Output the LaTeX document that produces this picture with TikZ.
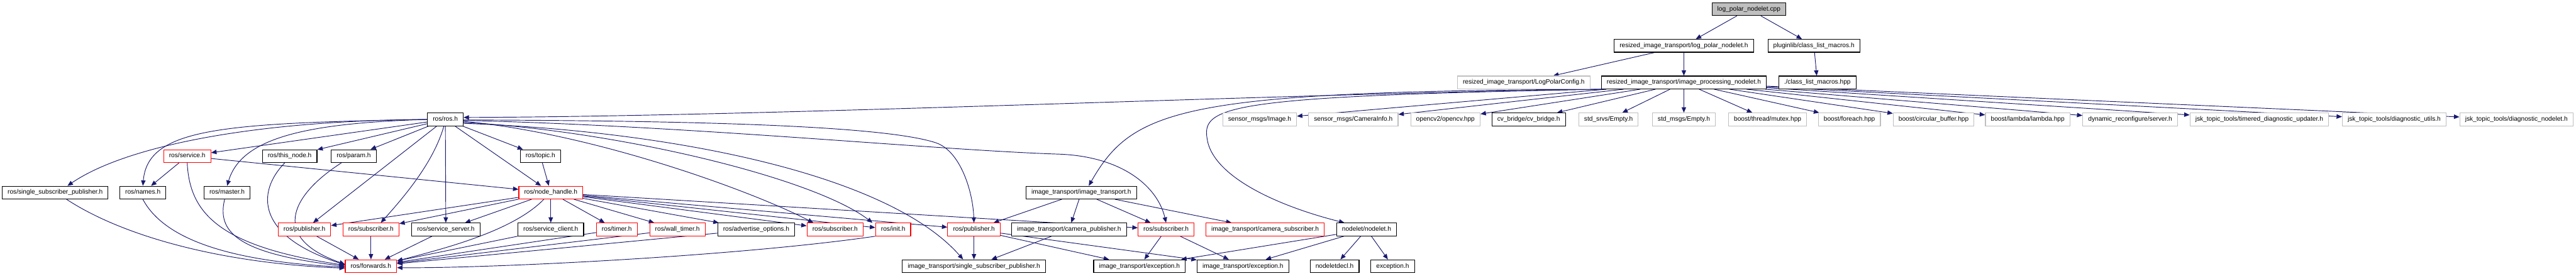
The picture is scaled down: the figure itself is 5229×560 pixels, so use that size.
\documentclass[tikz,border=0pt]{standalone}
\usepackage{fontspec}
\setmainfont{Liberation Sans}
\usepackage{tikz}
\usetikzlibrary{arrows.meta,backgrounds}
\definecolor{edgeblue}{HTML}{191970}

\begin{document}
\begin{tikzpicture}[
    x=1pt, y=-1pt,
    file/.style={rectangle, draw=black, fill=white, line width=1.4pt, minimum height=26pt, inner xsep=11pt, inner ysep=0pt, text height=9.5pt, text depth=2.7pt, font=\fontsize{13}{15}\selectfont},
    trunc/.style={file, draw=red},
    ext/.style={file, draw=black!25},
    root/.style={file, fill=black!25},
    arrow/.style={draw, line width=1.2pt, color=edgeblue, -{Triangle[length=11pt,width=9pt]}}
]
    \useasboundingbox (0,0) rectangle (5229,560);

    \node[root] (cpp) at (3550,18.5) {log\_polar\_nodelet.cpp};
    \node[file] (lpnh) at (3418,93) {resized\_image\_transport/log\_polar\_nodelet.h};
    \node[file] (plugin) at (3682,93) {pluginlib/class\_list\_macros.h};
    \node[ext] (lpcfg) at (3093,167.5) {resized\_image\_transport/LogPolarConfig.h};
    \node[file] (ipn) at (3418,167.5) {resized\_image\_transport/image\_processing\_nodelet.h};
    \node[file] (clmhpp) at (3689,167.5) {./class\_list\_macros.hpp};

    \node[file] (rosh) at (904,242.5) {ros/ros.h};
    \node[ext] (img) at (2557,242.5) {sensor\_msgs/Image.h};
    \node[ext] (caminfo) at (2747,242.5) {sensor\_msgs/CameraInfo.h};
    \node[ext] (opencv) at (2934,242.5) {opencv2/opencv.hpp};
    \node[file] (cvbridge) at (3103,242.5) {cv\_bridge/cv\_bridge.h};
    \node[ext] (srvempty) at (3265,242.5) {std\_srvs/Empty.h};
    \node[ext] (msgempty) at (3418,242.5) {std\_msgs/Empty.h};
    \node[ext] (mutex) at (3588,242.5) {boost/thread/mutex.hpp};
    \node[ext] (bforeach) at (3754,242.5) {boost/foreach.hpp};
    \node[ext] (circbuf) at (3925,242.5) {boost/circular\_buffer.hpp};
    \node[ext] (lambda) at (4116,242.5) {boost/lambda/lambda.hpp};
    \node[ext] (dynrec) at (4324,242.5) {dynamic\_reconfigure/server.h};
    \node[ext] (timered) at (4586,242.5) {jsk\_topic\_tools/timered\_diagnostic\_updater.h};
    \node[ext] (diagutils) at (4860,242.5) {jsk\_topic\_tools/diagnostic\_utils.h};
    \node[ext] (diagnodelet) at (5108,242.5) {jsk\_topic\_tools/diagnostic\_nodelet.h};

    \node[trunc] (service) at (380,317) {ros/service.h};
    \node[file] (thisnode) at (588,317) {ros/this\_node.h};
    \node[file] (param) at (718,317) {ros/param.h};
    \node[file] (topic) at (1097,317) {ros/topic.h};

    \node[file] (ssp) at (112,391) {ros/single\_subscriber\_publisher.h};
    \node[file] (names) at (290,391) {ros/names.h};
    \node[file] (master) at (461,391) {ros/master.h};
    \node[trunc] (nh) at (1118,391) {ros/node\_handle.h};
    \node[file] (it) at (2195,391) {image\_transport/image\_transport.h};

    \node[trunc] (pubA) at (618,466) {ros/publisher.h};
    \node[trunc] (subA) at (753,466) {ros/subscriber.h};
    \node[file] (srvserver) at (905,466) {ros/service\_server.h};
    \node[file] (srvclient) at (1118,466) {ros/service\_client.h};
    \node[trunc] (timer) at (1252,466) {ros/timer.h};
    \node[trunc] (walltimer) at (1375,466) {ros/wall\_timer.h};
    \node[file] (advopts) at (1535,466) {ros/advertise\_options.h};
    \node[trunc] (subB) at (1695,466) {ros/subscriber.h};
    \node[trunc] (init) at (1813,466) {ros/init.h};
    \node[trunc] (pubB) at (1977,466) {ros/publisher.h};
    \node[file] (campub) at (2170,466) {image\_transport/camera\_publisher.h};
    \node[trunc] (subC) at (2367,466) {ros/subscriber.h};
    \node[trunc] (camsub) at (2568,466) {image\_transport/camera\_subscriber.h};
    \node[file] (nodelet) at (2774,466) {nodelet/nodelet.h};

    \node[trunc] (fwd) at (753,540.5) {ros/forwards.h};
    \node[file] (itssp) at (1977,540.5) {image\_transport/single\_subscriber\_publisher.h};
    \node[file] (excA) at (2313,540.5) {image\_transport/exception.h};
    \node[file] (excB) at (2523,540.5) {image\_transport/exception.h};
    \node[file] (decl) at (2709,540.5) {nodeletdecl.h};
    \node[file] (exc) at (2827,540.5) {exception.h};

    \begin{scope}[on background layer]
    \path [arrow] (cpp) -- (lpnh);
    \path [arrow] (cpp) -- (plugin);
    \path [arrow] (lpnh) -- (lpcfg);
    \path [arrow] (lpnh) -- (ipn);
    \path [arrow] (plugin) -- (clmhpp);
    \path [arrow] (ipn) -- (img);
    \path [arrow] (ipn) -- (caminfo);
    \path [arrow] (ipn) -- (opencv);
    \path [arrow] (ipn) -- (cvbridge);
    \path [arrow] (ipn) -- (srvempty);
    \path [arrow] (ipn) -- (msgempty);
    \path [arrow] (ipn) -- (mutex);
    \path [arrow] (ipn) -- (bforeach);
    \path [arrow] (ipn) -- (circbuf);
    \path [arrow] (ipn) -- (lambda);
    \path [arrow] (ipn) -- (dynrec);
    \path [arrow] (ipn) -- (timered);
    \path [arrow] (ipn) -- (diagutils);
    \path [arrow] (ipn) -- (diagnodelet);
    \draw [arrow] (ipn.south west) .. controls (2600,190) and (1600,236) .. ([yshift=4pt]rosh.east);
    \draw [arrow] ([xshift=10pt]ipn.south west) .. controls (2400,185) and (2300,220) .. ([xshift=15pt]it.north);
    \draw [arrow] ([xshift=5pt]ipn.south west) .. controls (2500,195) and (2440,215) .. (2450,280) .. controls (2460,360) and (2600,420) .. ([xshift=-45pt]nodelet.north);

    \draw [arrow] (rosh.west) .. controls (500,245) and (250,300) .. ([xshift=25pt]ssp.north);
    \draw [arrow] (rosh.west) .. controls (450,250) and (300,260) .. (names.north);
    \path [arrow] (rosh) -- (service);
    \draw [arrow] (rosh.west) .. controls (620,250) and (490,280) .. (master.north);
    \path [arrow] (rosh) -- (thisnode);
    \path [arrow] (rosh) -- (param);
    \path [arrow] (rosh) -- (pubA);
    \draw [arrow] ([xshift=-3pt]rosh.south) .. controls (880,330) and (820,400) .. ([xshift=20pt]subA.north);
    \path [arrow] (rosh) -- (srvserver);
    \path [arrow] (rosh) -- (topic);
    \path [arrow] (rosh) -- (nh);
    \draw [arrow] ([yshift=-4pt]rosh.east) .. controls (1200,270) and (1520,385) .. ([xshift=-44pt]subB.north);
    \draw [arrow] ([yshift=-6pt]rosh.east) .. controls (1250,265) and (1650,360) .. ([xshift=-42pt]init.north);
    \draw [arrow] ([yshift=-8pt]rosh.east) .. controls (1350,265) and (1800,350) .. ([xshift=-22pt]itssp.north);
    \draw [arrow] ([yshift=-1pt]rosh.east) .. controls (1300,245) and (1780,250) .. (1900,290) .. controls (1950,307) and (1975,390) .. (pubB.north);
    \draw [arrow] ([yshift=-2pt]rosh.east) .. controls (1400,255) and (1900,305) .. (2150,313) .. controls (2280,318) and (2350,380) .. (subC.north);

    \path [arrow] (service) -- (names);
    \draw [arrow] (service.south) .. controls (385,430) and (440,500) .. ([yshift=2pt]fwd.west);
    \path [arrow] (service) -- (nh);
    \path [arrow] (topic) -- (nh);
    \path [arrow] (nh) -- (pubA);
    \path [arrow] (nh) -- (subA);
    \path [arrow] (nh) -- (srvserver);
    \draw [arrow] ([xshift=-14pt]nh.south) .. controls (1040,470) and (900,505) .. ([yshift=-3pt]fwd.north east);
    \path [arrow] (nh) -- (srvclient);
    \path [arrow] (nh) -- (timer);
    \path [arrow] (nh) -- (walltimer);
    \path [arrow] (nh) -- (advopts);
    \path [arrow] (nh) -- (subB);
    \path [arrow] (nh) -- (init);
    \path [arrow] (nh) -- (pubB);
    \path [arrow] (nh) -- (subC);

    \draw [arrow] ([xshift=23pt]ssp.south) .. controls (250,480) and (450,535) .. ([yshift=-4pt]fwd.west);
    \draw [arrow] (names.south) .. controls (330,480) and (450,530) .. ([yshift=-2pt]fwd.west);
    \draw [arrow] ([xshift=-5pt]master.south) .. controls (440,470) and (480,515) .. (fwd.west);
    \draw [arrow] ([xshift=-10pt]thisnode.south) .. controls (520,390) and (520,480) .. ([yshift=3pt]fwd.west);
    \draw [arrow] ([xshift=-25pt]param.south) .. controls (600,390) and (540,480) .. ([yshift=4pt]fwd.west);
    \path [arrow] (pubA) -- (fwd);
    \path [arrow] (subA) -- (fwd);
    \path [arrow] (srvserver) -- (fwd);
    \path [arrow] (srvclient) -- (fwd);
    \path [arrow] (timer) -- (fwd);
    \path [arrow] (walltimer) -- (fwd);
    \path [arrow] (advopts) -- (fwd);
    \draw [arrow] (init.south west) .. controls (1500,520) and (1000,545) .. ([yshift=-3pt]fwd.east);

    \path [arrow] (it) -- (pubB);
    \path [arrow] (it) -- (campub);
    \path [arrow] (it) -- (subC);
    \path [arrow] (it) -- (camsub);
    \path [arrow] (pubB) -- (itssp);
    \path [arrow] (pubB) -- (excA);
    \path [arrow] (pubB) -- (excB);
    \path [arrow] (campub) -- (itssp);
    \path [arrow] (subC) -- (excA);
    \path [arrow] (subC) -- (excB);
    \path [arrow] (nodelet) -- (excA);
    \path [arrow] (nodelet) -- (excB);
    \path [arrow] (nodelet) -- (decl);
    \path [arrow] (nodelet) -- (exc);
    \end{scope}
\end{tikzpicture}
\end{document}
